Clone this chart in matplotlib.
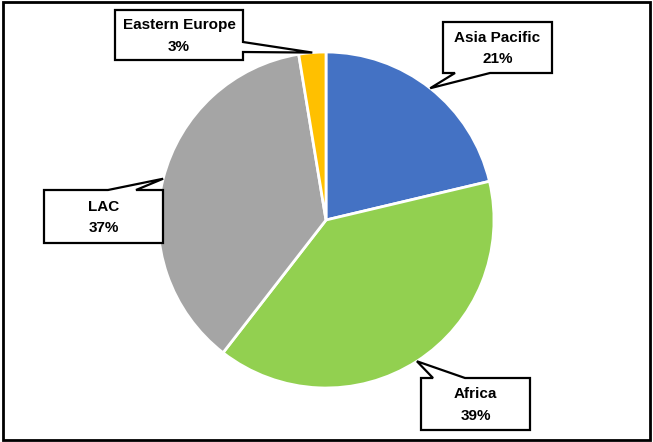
import matplotlib
matplotlib.use('Agg')
import matplotlib.pyplot as plt
from matplotlib.patches import Polygon
import numpy as np

# 数据
regions = ['Asia Pacific', 'Africa', 'LAC', 'Eastern Europe']
shares = [21.3, 39.2, 36.9, 2.6]
colors = ['#4472C4', '#92D050', '#A5A5A5', '#FFC000']

# 标签框 (像素, y 向下): x0, y0, x1, y1, 楔形所在边, 楔形底边两端
boxes = [
    (443, 22, 552, 73, 'bottom', 455, 490),
    (421, 378, 530, 430, 'top', 433, 465),
    (44, 190, 163, 243, 'top', 108, 136),
    (115, 10, 243, 60, 'right', 42, 52),
]

plt.rcParams['font.family'] = ['Liberation Sans', 'DejaVu Sans']

W, H = 653, 442
fig = plt.figure(figsize=(W / 100, H / 100), dpi=100)
ax = fig.add_axes([0, 0, 1, 1])

cx, cy, r = 326, H - 220, 168
ax.pie(shares, colors=colors, startangle=90, counterclock=False,
       center=(cx, cy), radius=r,
       wedgeprops=dict(edgecolor='white', linewidth=2))
ax.set_xlim(0, W)
ax.set_ylim(0, H)
ax.set_aspect('equal')
ax.axis('off')


def callout(x0, y0, x1, y1, side, a, b, tip):
    # 组合矩形 + 楔形 的标注框 (像素坐标)
    if side == 'top':
        pts = [(x0, y0), (a, y0), tip, (b, y0), (x1, y0), (x1, y1), (x0, y1)]
    elif side == 'bottom':
        pts = [(x0, y0), (x1, y0), (x1, y1), (b, y1), tip, (a, y1), (x0, y1)]
    else:  # right
        pts = [(x0, y0), (x1, y0), (x1, a), tip, (x1, b), (x1, y1), (x0, y1)]
    return [(px, H - py) for px, py in pts]


total = sum(shares)
start = 90
for (name, val), box in zip(zip(regions, shares), boxes):
    span = val / total * 360
    ang = np.deg2rad(start - span / 2)
    start -= span
    tip = (cx + r * np.cos(ang), H - (cy + r * np.sin(ang)))
    x0, y0, x1, y1, side, a, b = box
    ax.add_patch(Polygon(callout(x0, y0, x1, y1, side, a, b, tip), closed=True,
                         fc='white', ec='black', lw=1.6, joinstyle='miter', zorder=5))
    ax.text((x0 + x1) / 2, H - (y0 + y1) / 2 - 1, f"{name}\n{round(val)}%",
            ha='center', va='center', fontsize=11, fontweight='bold',
            linespacing=1.65, zorder=6)

# 外边框
fig.patches.append(plt.Rectangle((0.004, 0.005), 0.992, 0.99, transform=fig.transFigure,
                                 fill=False, ec='black', lw=2))

plt.savefig('out.png', dpi=100)
plt.close()
